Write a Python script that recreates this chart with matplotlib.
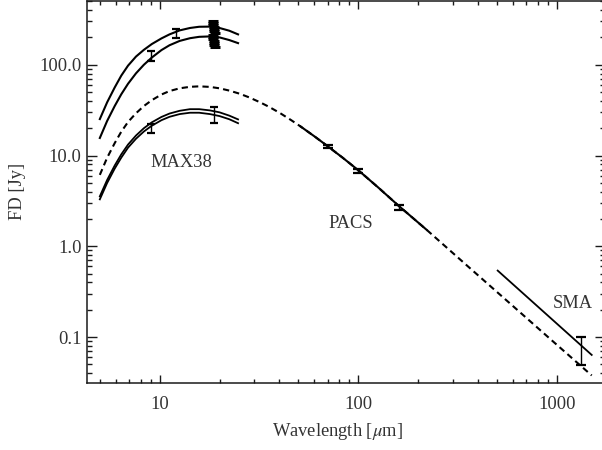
#!/usr/bin/env python3
# -*- coding: utf-8 -*-

import matplotlib
matplotlib.use('Agg')
import matplotlib.pyplot as plt
import matplotlib.ticker as mticker

# DATA ----------------------------------------------------------------------------------------------------------------

# model curves, wavelength in micron, flux density in Jy
curve_x = [4.99, 5.43, 5.93, 6.40, 6.92, 7.59, 8.32, 9.12, 10.2, 11.2, 12.6, 14.2, 15.8, 17.9, 20.0, 22.4, 24.8]
curve_a = [25.2, 38.5, 56.2, 75.9, 97.7, 123, 146, 169, 195, 216, 239, 254, 262, 263, 254, 237, 216]
curve_b = [15.6, 24.0, 35.1, 47.3, 61.7, 80.4, 100, 120, 145, 164, 183, 196, 203, 205, 200, 187, 173]
curve_c = [3.55, 5.37, 7.76, 10.3, 13.2, 16.6, 20.0, 23.2, 26.6, 29.0, 31.1, 32.4, 32.4, 31.4, 29.9, 27.5, 25.0]
curve_d = [3.29, 4.98, 7.18, 9.48, 12.2, 15.3, 18.4, 21.3, 24.5, 26.7, 28.6, 29.6, 29.6, 28.6, 27.2, 25.1, 22.7]

dash_x = [4.99, 5.43, 5.93, 6.40, 6.92, 7.59, 8.32, 9.12, 10.2, 11.2, 12.6, 14.2, 15.8, 17.9, 20.0, 22.4,
          25.3, 28.2, 31.9, 35.5, 40.3, 45.7, 51.2, 60.3, 70.0, 83.2, 100, 126, 159, 221, 352, 604, 960, 1500]
dash_y = [6.12, 9.44, 13.7, 18.3, 23.4, 29.2, 35.1, 40.7, 47.0, 51.3, 55.0, 57.1, 57.8, 57.0, 55.0, 51.9,
          47.9, 43.7, 38.7, 34.4, 29.4, 24.7, 20.9, 16.2, 12.7, 9.51, 6.89, 4.45, 2.82, 1.52, 0.617, 0.218, 0.0891, 0.0378]

pacs_line_x = [51.2, 60.3, 70.0, 83.2, 100, 126, 159, 221]
pacs_line_y = [20.9, 16.2, 12.7, 9.51, 6.89, 4.45, 2.82, 1.52]

sma_line_x = [504, 1500]
sma_line_y = [0.540, 0.0636]

# photometry with errors
ir_x = [9.0, 12.1]
ir_y = [127, 223]
ir_err = [16, 26]

cluster_x = [18.5, 18.57, 18.63, 18.7, 18.77, 18.83, 18.9]
cluster_y = [259.5, 247, 235, 223, 212.5, 201.5, 191.5]
cluster_err = [45.5, 43, 41, 39, 37.5, 35.5, 33.5]

max38_x = [9.0, 18.7]
max38_y = [20.0, 28.5]
max38_err = [2.3, 5.7]

pacs_x = [70, 100, 160]
pacs_y = [12.6, 6.84, 2.7]
pacs_err = [0.6, 0.35, 0.16]

sma_x = [1330]
sma_y = [0.075]
sma_err = [0.026]

y_ticks = [0.1, 1.0, 10.0, 100.0]
y_tick_labels = ['0.1', '1.0', '10.0', '100.0']
x_ticks = [10, 100, 1000]
x_tick_labels = ['10', '100', '1000']

# PLOT ----------------------------------------------------------------------------------------------------------------

plt.rcParams['font.family'] = ['Liberation Serif', 'DejaVu Serif']
plt.rcParams['mathtext.fontset'] = 'stix'
plt.rcParams['font.size'] = 13.3
ink = '#1a1a1a'
grey = '#333333'

fig = plt.figure(figsize=(6.02, 4.5), dpi=100)
ax = fig.add_axes([87 / 602, 67.5 / 450, 517.5 / 602, 382 / 450])
ax.set_xscale('log')
ax.set_yscale('log')
ax.set_xlim(4.3, 1740)
ax.set_ylim(0.0316, 510)

lw = 1.5
ax.plot(curve_x, curve_a, color='black', lw=lw)
ax.plot(curve_x, curve_b, color='black', lw=lw)
ax.plot(curve_x, curve_c, color='black', lw=1.3)
ax.plot(curve_x, curve_d, color='black', lw=1.3)
ax.plot(dash_x, dash_y, color='black', lw=lw, ls=(0, (3, 2)))
ax.plot(pacs_line_x, pacs_line_y, color='black', lw=lw)
ax.plot(sma_line_x, sma_line_y, color='black', lw=1.3)

eb = dict(fmt='none', ecolor='black', elinewidth=1.0, capthick=1.6)
ax.errorbar(ir_x, ir_y, yerr=ir_err, capsize=2.9, **eb)
ax.errorbar(cluster_x, cluster_y, yerr=cluster_err, fmt='none', ecolor='black', elinewidth=1.2, capthick=2.2, capsize=3.4)
ax.errorbar(max38_x, max38_y, yerr=max38_err, capsize=2.9, **eb)
ax.errorbar(pacs_x, pacs_y, yerr=pacs_err, capsize=3.5, **eb)
ax.errorbar(sma_x, sma_y, yerr=sma_err, capsize=3.5, **eb)

ax.text(12.8, 8.3, 'MAX38', ha='center', va='center', color=grey)
ax.text(91.8, 1.77, 'PACS', ha='center', va='center', color=grey)
ax.text(1208, 0.236, 'SMA', ha='center', va='center', color=grey)

ax.xaxis.set_major_locator(mticker.FixedLocator(x_ticks))
ax.xaxis.set_major_formatter(mticker.FixedFormatter(x_tick_labels))
ax.yaxis.set_major_locator(mticker.FixedLocator(y_ticks))
ax.yaxis.set_major_formatter(mticker.FixedFormatter(y_tick_labels))
ax.xaxis.set_minor_locator(mticker.LogLocator(base=10, subs=range(2, 10), numticks=20))
ax.yaxis.set_minor_locator(mticker.LogLocator(base=10, subs=range(2, 10), numticks=20))
ax.xaxis.set_minor_formatter(mticker.NullFormatter())
ax.yaxis.set_minor_formatter(mticker.NullFormatter())

ax.tick_params(axis='x', which='major', direction='in', length=5.5, width=1.0, top=True, pad=10, colors=ink, labelcolor=grey)
ax.tick_params(axis='x', which='minor', direction='in', length=2.8, width=1.0, top=True, colors=ink)
ax.tick_params(axis='y', which='major', direction='in', length=7.4, width=1.0, right=True, pad=4, colors=ink, labelcolor=grey)
ax.tick_params(axis='y', which='minor', direction='in', length=3.7, width=1.0, right=True, colors=ink)
for spine in ax.spines.values():
    spine.set_linewidth(1.1)
    spine.set_color(ink)

fig.text(338 / 602, 1 - 432 / 450, 'Wavelength [$\\mu$m]', ha='center', va='center', color=grey)
fig.text(17.5 / 602, 1 - 191.5 / 450, 'FD [Jy]', ha='center', va='center', rotation=90, color=grey)

fig.savefig('out.png', dpi=100)
